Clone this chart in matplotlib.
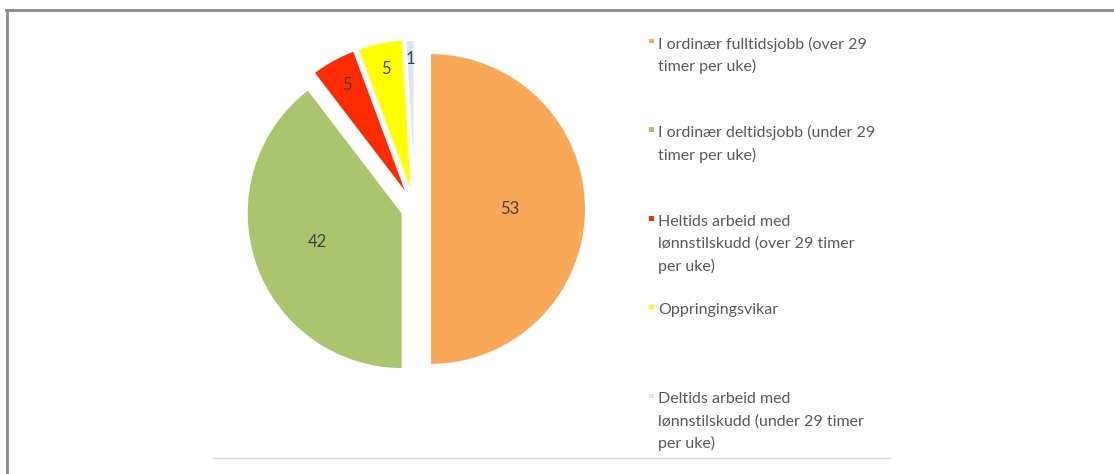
import numpy as np
import matplotlib.pyplot as plt
from matplotlib.lines import Line2D
from matplotlib.patches import Rectangle

# data
categories = [
    "I ordinær fulltidsjobb (over 29\ntimer per uke)",
    "I ordinær deltidsjobb (under 29\ntimer per uke)",
    "Heltids arbeid med\nlønnstilskudd (over 29 timer\nper uke)",
    "Oppringingsvikar",
    "Deltids arbeid med\nlønnstilskudd (under 29 timer\nper uke)",
]
values = [53, 42, 5, 5, 1]
colors = ["#F9A857", "#ADC46E", "#FF2B00", "#FFFF00", "#DAE5F8"]

# styling (pixel units, figure is 1114x474)
W, H = 1114, 474
explode = [15, 13, 14, 14, 13]
label_dist = [0.51, 0.58, 0.82, 0.83, 0.88]
text_col = "#595959"
font = ["Lato", "DejaVu Sans"]

fig = plt.figure(figsize=(W / 100, H / 100), dpi=100)
ax = fig.add_axes([0, 0, 1, 1])

# pie drawn in pixel data space, y measured from the bottom
cx, cy, r = 415, H - 209, 156
wedges, _ = ax.pie(values, colors=colors, explode=explode, startangle=90,
                   counterclock=False, radius=r, center=(cx, cy),
                   wedgeprops=dict(edgecolor="white", linewidth=1.5))

# value labels placed along each wedge's bisector
for w, v, d in zip(wedges, values, label_dist):
    ang = np.deg2rad((w.theta1 + w.theta2) / 2)
    x0, y0 = w.center
    ax.text(x0 + d * r * np.cos(ang), y0 + d * r * np.sin(ang), str(v),
            ha="center", va="center", fontsize=12, color="#404040", family=font)

# legend, built by hand so the marker sits on the first line
leg_x, leg_top, step, pitch = 658, 44, 88.8, 22.2
for i, (lab, c) in enumerate(zip(categories, colors)):
    ytop = leg_top + i * step
    ax.add_patch(Rectangle((649, H - ytop + 1), 4.5, 4.5, color=c, lw=0))
    for j, line in enumerate(lab.split("\n")):
        ax.text(leg_x, H - (ytop + j * pitch), line, ha="left", va="center",
                fontsize=11.5, color=text_col, family=font)

# frame and separator
ax.add_line(Line2D([6, W], [H - 10, H - 10], color="#8a8a8a", lw=2))
ax.add_line(Line2D([7, 7], [0, H - 10], color="#8a8a8a", lw=2))
ax.add_line(Line2D([213, 890], [H - 458, H - 458], color="#d9d9d9", lw=1))

ax.set_xlim(0, W)
ax.set_ylim(0, H)
ax.set_aspect("auto")
ax.axis("off")

fig.savefig("out.png", dpi=100)
